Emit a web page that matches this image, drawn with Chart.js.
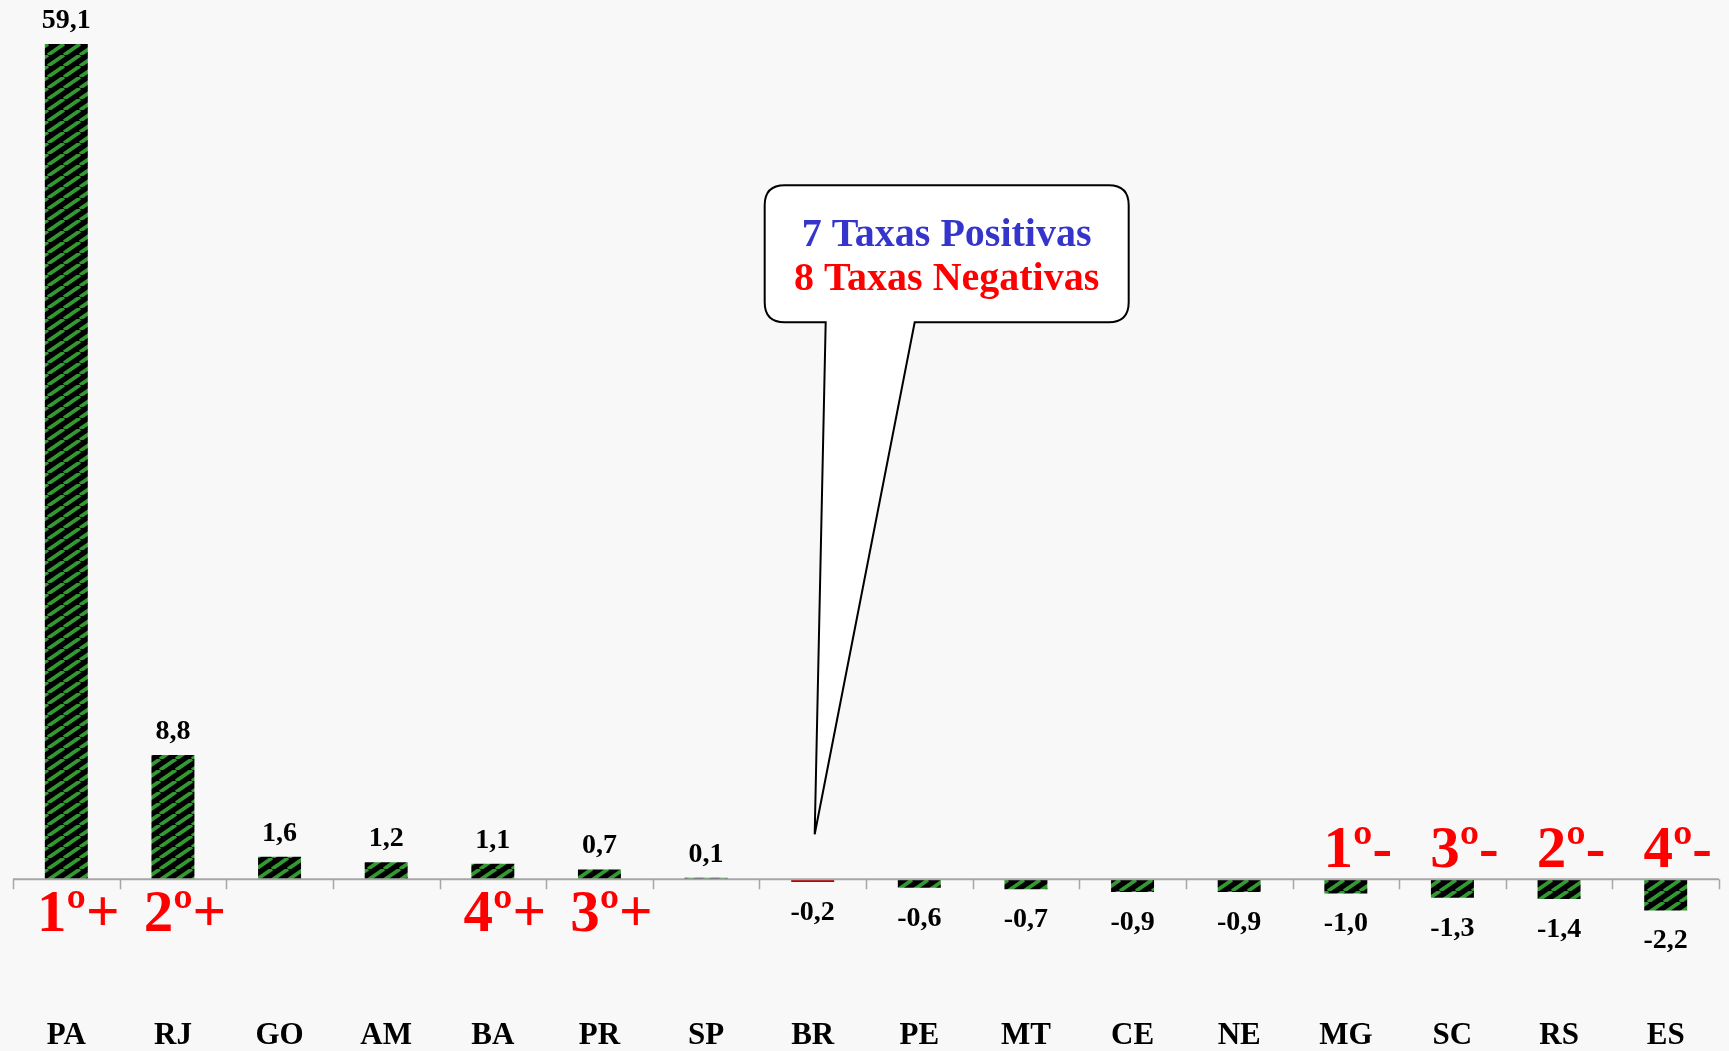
<!DOCTYPE html>
<html>
<head>
<meta charset="utf-8">
<script src="https://cdn.jsdelivr.net/npm/chart.js@4.4.1/dist/chart.umd.min.js"></script>
<style>
  html, body { margin: 0; padding: 0; background: #f8f8f8; }
  #wrap { width: 1729px; height: 1051px; position: relative; }
</style>
</head>
<body>
<div id="wrap"><canvas id="taxaChart"></canvas></div>
<script>
const labels = ["PA", "RJ", "GO", "AM", "BA", "PR", "SP", "BR", "PE", "MT", "CE", "NE", "MG", "SC", "RS", "ES"];
const values = [59.1, 8.8, 1.6, 1.2, 1.1, 0.7, 0.1, -0.2, -0.6, -0.7, -0.9, -0.9, -1.0, -1.3, -1.4, -2.2];
const ranks = ["1º+", "2º+", "", "", "4º+", "3º+", "", "", "", "", "", "", "1º-", "3º-", "2º-", "4º-"];
const calloutLines = ["7 Taxas Positivas", "8 Taxas Negativas"];
const highlight = "BR";

const SERIF = "'Liberation Serif', 'Times New Roman', serif";

// black bar with green diagonal stripes
function makeStripes() {
  const c = document.createElement("canvas");
  c.width = 16; c.height = 11;
  const g = c.getContext("2d");
  g.fillStyle = "#000";
  g.fillRect(0, 0, 16, 11);
  g.strokeStyle = "#339933";
  g.lineWidth = 3.8;
  for (const dx of [-16, 0, 16]) {
    g.beginPath();
    g.moveTo(dx, 11);
    g.lineTo(dx + 16, 0);
    g.stroke();
  }
  return g.createPattern(c, "repeat");
}
const stripes = makeStripes();

const fmt = v => v.toFixed(1).replace(".", ",");

const overlay = {
  id: "overlay",
  afterDatasetsDraw(chart) {
    const ctx = chart.ctx;
    const xs = chart.scales.x, ys = chart.scales.y;
    const y0 = ys.getPixelForValue(0);
    const area = chart.chartArea;
    ctx.save();
    // zero axis with tick marks
    ctx.strokeStyle = "#a6a6a6";
    ctx.lineWidth = 2;
    ctx.beginPath();
    ctx.moveTo(area.left, y0);
    ctx.lineTo(area.right, y0);
    ctx.stroke();
    ctx.lineWidth = 1.5;
    for (let i = 0; i <= labels.length; i++) {
      const x = Math.round(xs.getPixelForValue(i - 0.5)) + 0.5;
      ctx.beginPath();
      ctx.moveTo(x, y0);
      ctx.lineTo(x, y0 + 10);
      ctx.stroke();
    }
    // value labels
    const meta = chart.getDatasetMeta(0);
    ctx.fillStyle = "#000";
    ctx.font = "bold 28px " + SERIF;
    ctx.textAlign = "center";
    ctx.textBaseline = "alphabetic";
    meta.data.forEach((bar, i) => {
      const v = values[i];
      if (v >= 0) ctx.fillText(fmt(v), bar.x, bar.y - 16);
      else ctx.fillText(fmt(v), bar.x, bar.y + 38);
    });
    // rank labels
    ctx.fillStyle = "#ff0000";
    ctx.font = "bold 59px " + SERIF;
    ranks.forEach((r, i) => {
      if (!r) return;
      const x = xs.getPixelForValue(i) + 12;
      if (values[i] >= 0) ctx.fillText(r, x, y0 + 52);
      else ctx.fillText(r, x, y0 - 12);
    });
    // callout pointing at BR
    const bi = labels.indexOf(highlight);
    const tipX = xs.getPixelForValue(bi) + 2;
    const tipY = y0 - 45;
    const L = tipX - 50, R = tipX + 314, T = tipY - 649, B = tipY - 512, rad = 20;
    const baseA = tipX + 11, baseB = tipX + 100;
    ctx.beginPath();
    ctx.moveTo(L + rad, T);
    ctx.lineTo(R - rad, T);
    ctx.quadraticCurveTo(R, T, R, T + rad);
    ctx.lineTo(R, B - rad);
    ctx.quadraticCurveTo(R, B, R - rad, B);
    ctx.lineTo(baseB, B);
    ctx.lineTo(tipX, tipY);
    ctx.lineTo(baseA, B);
    ctx.lineTo(L + rad, B);
    ctx.quadraticCurveTo(L, B, L, B - rad);
    ctx.lineTo(L, T + rad);
    ctx.quadraticCurveTo(L, T, L + rad, T);
    ctx.closePath();
    ctx.fillStyle = "#ffffff";
    ctx.fill();
    ctx.strokeStyle = "#000";
    ctx.lineWidth = 2;
    ctx.stroke();
    ctx.font = "bold 40px " + SERIF;
    ctx.fillStyle = "#3535cc";
    ctx.fillText(calloutLines[0], (L + R) / 2, T + 61);
    ctx.fillStyle = "#ff0000";
    ctx.fillText(calloutLines[1], (L + R) / 2, T + 105);
    ctx.restore();
  }
};

new Chart(document.getElementById("taxaChart"), {
  type: "bar",
  data: {
    labels: labels,
    datasets: [{
      data: values,
      backgroundColor: labels.map(l => l === highlight ? "#c00000" : stripes),
      borderWidth: 0,
      categoryPercentage: 1.0,
      barPercentage: 0.403
    }]
  },
  options: {
    responsive: true,
    maintainAspectRatio: false,
    animation: false,
    layout: { padding: { left: 13, right: 10, top: 3, bottom: 0 } },
    plugins: { legend: { display: false }, tooltip: { enabled: false } },
    scales: {
      x: {
        grid: { display: false },
        border: { display: false },
        ticks: {
          color: "#000",
          padding: 0,
          font: { family: SERIF, size: 31, weight: "bold", lineHeight: 1.0 }
        }
      },
      y: {
        display: false,
        min: -9.39,
        max: 62
      }
    }
  },
  plugins: [overlay]
});
</script>
</body>
</html>
